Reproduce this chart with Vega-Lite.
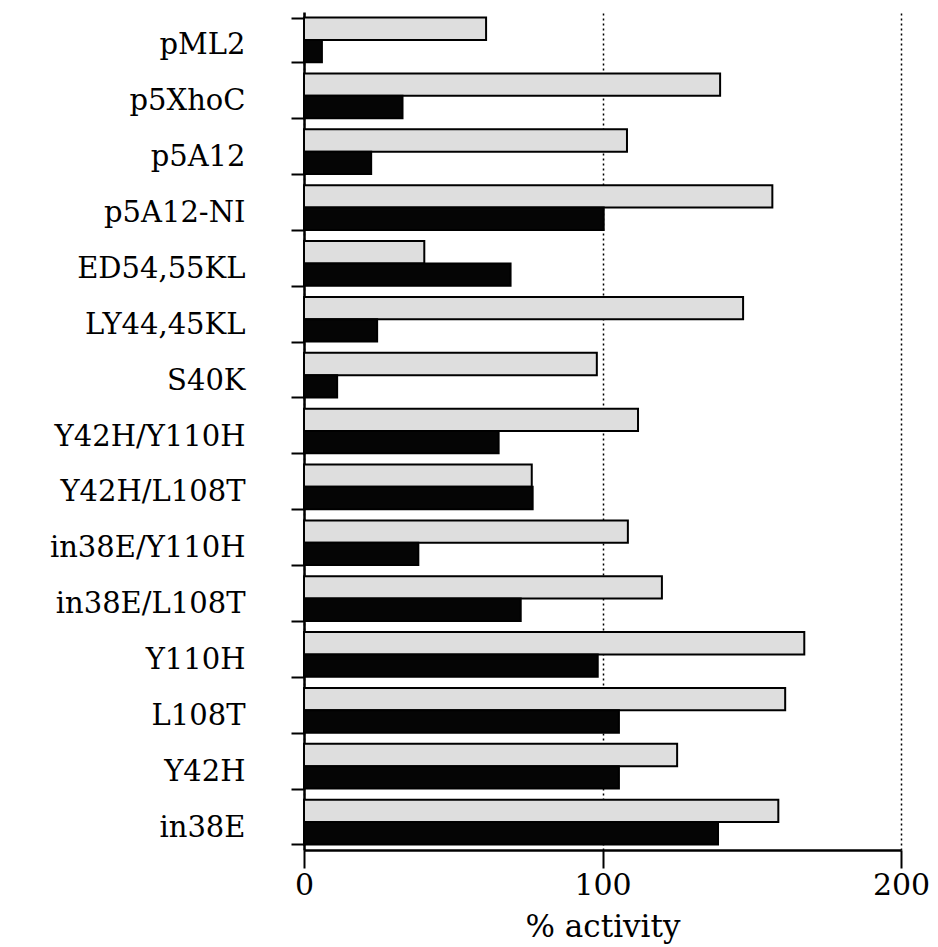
{
  "$schema": "https://vega.github.io/schema/vega-lite/v6.json",
  "autosize": {"type": "none"},
  "width": 597,
  "height": 838,
  "padding": {"left": 304, "top": 12, "right": 37, "bottom": 97},
  "background": "white",
  "config": {
    "view": {"stroke": null},
    "font": "DejaVu Serif"
  },
  "data": {
    "values": [
      {"construct": "pML2", "series": "A", "activity": 61},
      {"construct": "pML2", "series": "B", "activity": 6},
      {"construct": "p5XhoC", "series": "A", "activity": 139.4},
      {"construct": "p5XhoC", "series": "B", "activity": 33},
      {"construct": "p5A12", "series": "A", "activity": 108.2},
      {"construct": "p5A12", "series": "B", "activity": 22.5},
      {"construct": "p5A12-NI", "series": "A", "activity": 156.9},
      {"construct": "p5A12-NI", "series": "B", "activity": 100.4},
      {"construct": "ED54,55KL", "series": "A", "activity": 40.3},
      {"construct": "ED54,55KL", "series": "B", "activity": 69.2},
      {"construct": "LY44,45KL", "series": "A", "activity": 147.1},
      {"construct": "LY44,45KL", "series": "B", "activity": 24.5},
      {"construct": "S40K", "series": "A", "activity": 98.1},
      {"construct": "S40K", "series": "B", "activity": 11.1},
      {"construct": "Y42H/Y110H", "series": "A", "activity": 111.9},
      {"construct": "Y42H/Y110H", "series": "B", "activity": 65.2},
      {"construct": "Y42H/L108T", "series": "A", "activity": 76.3},
      {"construct": "Y42H/L108T", "series": "B", "activity": 76.6},
      {"construct": "in38E/Y110H", "series": "A", "activity": 108.5},
      {"construct": "in38E/Y110H", "series": "B", "activity": 38.3},
      {"construct": "in38E/L108T", "series": "A", "activity": 119.9},
      {"construct": "in38E/L108T", "series": "B", "activity": 72.6},
      {"construct": "Y110H", "series": "A", "activity": 167.6},
      {"construct": "Y110H", "series": "B", "activity": 98.4},
      {"construct": "L108T", "series": "A", "activity": 161.2},
      {"construct": "L108T", "series": "B", "activity": 105.5},
      {"construct": "Y42H", "series": "A", "activity": 125},
      {"construct": "Y42H", "series": "B", "activity": 105.5},
      {"construct": "in38E", "series": "A", "activity": 158.9},
      {"construct": "in38E", "series": "B", "activity": 138.7}
    ]
  },
  "mark": {"type": "bar", "stroke": "black", "strokeWidth": 2},
  "encoding": {
    "y": {
      "field": "construct",
      "type": "nominal",
      "sort": null,
      "scale": {"paddingInner": 0.2, "paddingOuter": 0.1},
      "axis": {
        "title": null,
        "tickBand": "extent",
        "domainColor": "black",
        "domainWidth": 2.5,
        "tickColor": "black",
        "tickWidth": 2,
        "tickSize": 13,
        "labelPadding": 46,
        "labelFontSize": 29,
        "labelFont": "DejaVu Serif",
        "labelColor": "black",
        "labelOffset": 5,
        "labelLimit": 0,
        "grid": false
      }
    },
    "yOffset": {
      "field": "series",
      "type": "nominal",
      "scale": {"paddingInner": 0, "paddingOuter": 0}
    },
    "x": {
      "field": "activity",
      "type": "quantitative",
      "scale": {"domain": [0, 200], "nice": false},
      "axis": {
        "title": "% activity",
        "titleFont": "DejaVu Serif",
        "titleFontSize": 31,
        "titleFontWeight": "normal",
        "titleColor": "black",
        "titlePadding": 12,
        "values": [0, 100, 200],
        "domainColor": "black",
        "domainWidth": 2.5,
        "tickColor": "black",
        "tickWidth": 2,
        "tickSize": 18,
        "labelFontSize": 30,
        "labelFont": "DejaVu Serif",
        "labelColor": "black",
        "labelPadding": 2,
        "labelFlush": false,
        "grid": true,
        "gridColor": "black",
        "gridDash": [2, 3],
        "gridWidth": 1.5
      }
    },
    "fill": {
      "field": "series",
      "type": "nominal",
      "scale": {"domain": ["A", "B"], "range": ["#dedede", "#050505"]},
      "legend": null
    }
  }
}
